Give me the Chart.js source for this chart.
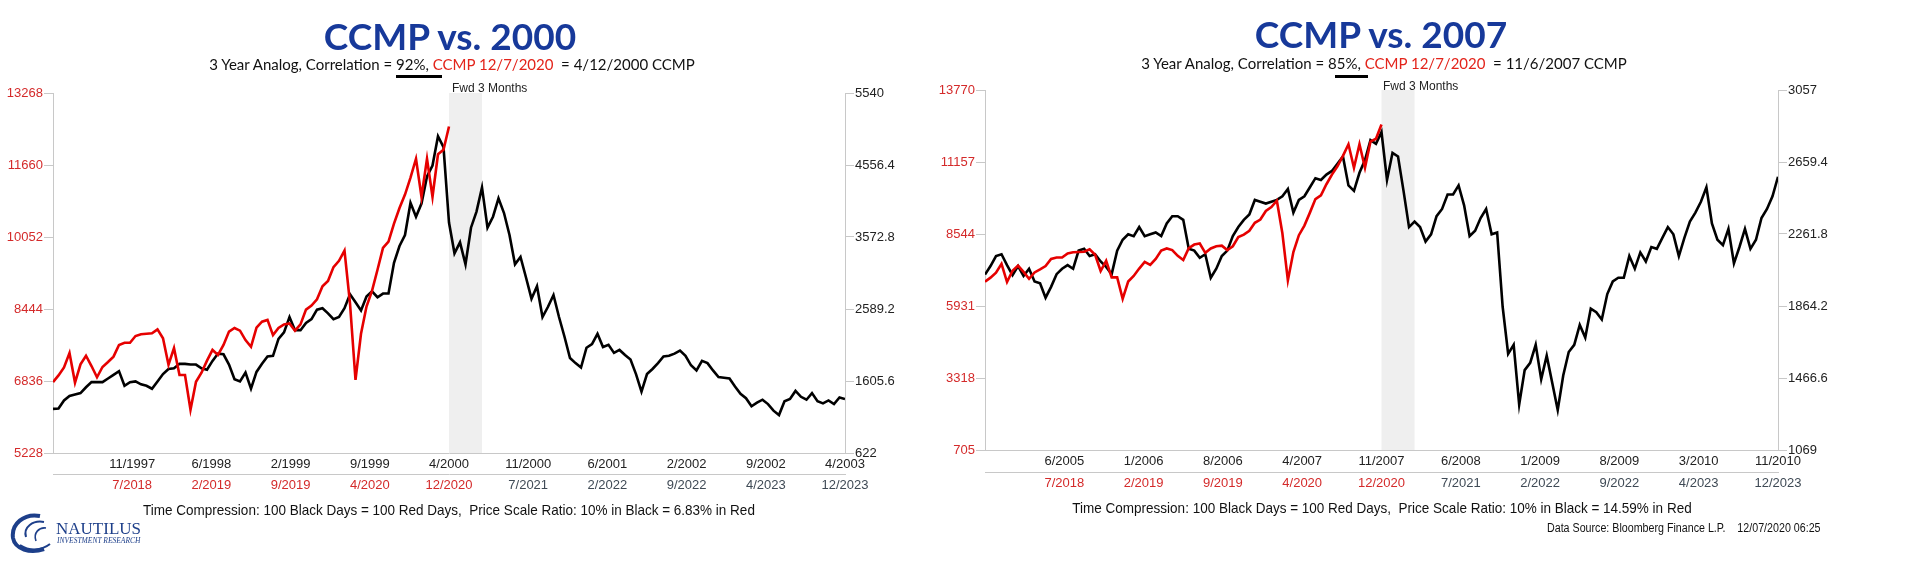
<!DOCTYPE html>
<html>
<head>
<meta charset="utf-8">
<script src="https://cdn.jsdelivr.net/npm/chart.js@4.4.1/dist/chart.umd.min.js"></script>
<style>
  html, body { margin: 0; padding: 0; background: #fff; }
  body { width: 1914px; height: 563px; position: relative; overflow: hidden; }
  canvas { position: absolute; top: 0; }
  .txt { position: absolute; white-space: pre; line-height: 1; }
  .title { font-family: Lato, 'Open Sans', sans-serif; font-weight: 700; font-size: 37px; color: #17399a; transform: translateX(-50%); }
  .sub { font-family: Lato, 'Open Sans', sans-serif; font-size: 15px; color: #111; transform: translateX(-50%); }
  .red { color: #e3241b; }
  .fwd { font-family: 'Liberation Sans', Arial, sans-serif; font-size: 12px; color: #222; }
  .note { font-family: 'Liberation Sans Narrow', 'Arial Narrow', 'Liberation Sans', sans-serif; font-size: 15px; color: #111; transform: translateX(-50%) scaleX(0.9); }
  .src { font-family: 'Liberation Sans Narrow', 'Arial Narrow', 'Liberation Sans', sans-serif; font-size: 12px; color: #111; transform-origin: 0 0; transform: scaleX(0.89); }
  .bar { position: absolute; height: 3px; background: #000; }
  .logo { font-family: 'Liberation Serif', 'DejaVu Serif', serif; color: #1d3f8a; }
</style>
</head>
<body>
<canvas id="c2000" width="930" height="563" style="left:0;width:930px;height:563px"></canvas>
<canvas id="c2007" width="984" height="563" style="left:930px;width:984px;height:563px"></canvas>

<div class="txt title" style="left:450px;top:17px">CCMP vs. 2000</div>
<div class="txt sub" style="left:452px;top:57px">3 Year Analog, Correlation = 92%, <span class="red">CCMP 12/7/2020</span>  = 4/12/2000 CCMP</div>
<div class="bar" style="left:396px;top:75px;width:46px"></div>
<div class="txt fwd" style="left:452px;top:82px">Fwd 3 Months</div>
<div class="txt note" style="left:449px;top:502px">Time Compression: 100 Black Days = 100 Red Days,  Price Scale Ratio: 10% in Black = 6.83% in Red</div>

<div class="txt title" style="left:1381px;top:15px">CCMP vs. 2007</div>
<div class="txt sub" style="left:1384px;top:56px">3 Year Analog, Correlation = 85%, <span class="red">CCMP 12/7/2020</span>  = 11/6/2007 CCMP</div>
<div class="bar" style="left:1335px;top:75px;width:33px"></div>
<div class="txt fwd" style="left:1383px;top:80px">Fwd 3 Months</div>
<div class="txt note" style="left:1382px;top:500px">Time Compression: 100 Black Days = 100 Red Days,  Price Scale Ratio: 10% in Black = 14.59% in Red</div>
<div class="txt src" style="left:1547px;top:522px">Data Source: Bloomberg Finance L.P.    12/07/2020 06:25</div>

<svg style="position:absolute;left:8px;top:512px" width="50" height="42" viewBox="0 0 50 42">
  <path d="M32 4 C16 1, 3 12, 5 26 C7 37, 22 42, 36 37" stroke="#1d3f8a" stroke-width="4" fill="none"/>
  <path d="M36 10 C25 8, 15 15, 18 25" stroke="#1d3f8a" stroke-width="2" fill="none"/>
  <path d="M38 16 C31 15, 25 21, 28 29" stroke="#1d3f8a" stroke-width="1.6" fill="none"/>
  <path d="M12 33 C21 39, 33 39, 42 32" stroke="#1d3f8a" stroke-width="2" fill="none"/>
</svg>
<div class="txt logo" style="left:56px;top:520px;font-size:17px">NAUTILUS</div>
<div class="txt logo" style="left:57px;top:537px;font-size:7.5px;font-style:italic">INVESTMENT RESEARCH</div>

<script>
// x tick labels (ten per axis, evenly spaced, last one at the right edge)
const ticksBlack2000 = ['11/1997', '6/1998', '2/1999', '9/1999', '4/2000', '11/2000', '6/2001', '2/2002', '9/2002', '4/2003'];
const ticksBlack2007 = ['6/2005', '1/2006', '8/2006', '4/2007', '11/2007', '6/2008', '1/2009', '8/2009', '3/2010', '11/2010'];
const ticksRed = ['7/2018', '2/2019', '9/2019', '4/2020', '12/2020', '7/2021', '2/2022', '9/2022', '4/2023', '12/2023'];

// y tick values
const yLeft2000 = [5228, 6836, 8444, 10052, 11660, 13268];
const yRight2000 = [622, 1605.6, 2589.2, 3572.8, 4556.4, 5540];
const yLeft2007 = [705, 3318, 5931, 8544, 11157, 13770];
const yRight2007 = [1069, 1466.6, 1864.2, 2261.8, 2659.4, 3057];

// CCMP 12/7/2017 .. 12/7/2020, twice a month (red)
const ccmp2017_2020 = [
  6812, 6960,
  7140, 7460, 6800, 7210, 7400, 7170, 6920, 7150, 7260, 7380, 7640, 7690,
  7690, 7840, 7880, 7890, 7900, 7990, 7790, 7200, 7570, 6970, 6970, 6193,
  6820, 7020, 7290, 7530, 7420, 7640, 7940, 8020, 7960, 7750, 7600, 8030,
  8160, 8200, 7860, 8020, 8100, 8120, 7960, 8100, 8430, 8520, 8660, 8950,
  9070, 9380, 9520, 9750, 8570, 6860, 7890, 8500, 8850, 9320, 9810, 9950,
  10350, 10700, 11000, 11380, 11800, 10950, 11800, 10950, 11900, 12000, 12519
];

// CCMP 4/12/1997 .. 4/12/2003, twice a month (black, left panel)
const ccmp1997_2003 = [
  1225, 1230, 1340, 1400, 1420, 1440, 1520, 1590, 1590, 1590, 1640, 1690, 1740, 1540, 1590, 1600, 1560, 1540,
  1500, 1600, 1700, 1770, 1780, 1840, 1840, 1830, 1830, 1780, 1760, 1880, 1980, 1970, 1830, 1630, 1600, 1720, 1500, 1730, 1840, 1940, 1950, 2180,
  2270, 2480, 2300, 2300, 2400, 2450, 2580, 2600, 2530, 2450, 2480, 2600, 2790, 2680, 2570, 2760, 2830, 2750, 2800, 2800, 3220, 3450, 3600, 4040,
  3850, 4030, 4400, 4550, 4950, 4800, 3770, 3350, 3500, 3200, 3700, 3920, 4250, 3700, 3850, 4100, 3900, 3600, 3200, 3300, 3020, 2730, 2900, 2480,
  2620, 2780, 2480, 2210, 1920, 1850, 1790, 2060, 2110, 2250, 2070, 2100, 1990, 2030, 1960, 1900, 1700, 1460, 1700, 1770, 1850, 1940, 1950, 1980,
  2020, 1950, 1820, 1750, 1880, 1850, 1750, 1660, 1650, 1640, 1530, 1430, 1370, 1260, 1310, 1350, 1290, 1200, 1140, 1330, 1360, 1470, 1390, 1350,
  1440, 1330, 1300, 1340, 1290, 1380, 1360
];

// CCMP 11/6/2004 .. 11/6/2010, twice a month (black, right panel)
const ccmp2004_2010 = [
  2038, 2085, 2140, 2150,
  2090, 2035, 2085, 2030, 2070, 2000, 1990, 1910, 1970, 2040, 2070, 2090, 2070, 2170, 2180, 2140, 2150, 2110, 2080, 2040, 2170, 2230, 2260, 2250,
  2300, 2250, 2260, 2270, 2250, 2320, 2360, 2360, 2340, 2180, 2170, 2130, 2150, 2020, 2070, 2140, 2170, 2250, 2300, 2340, 2370, 2450, 2440, 2430,
  2440, 2450, 2470, 2510, 2380, 2450, 2470, 2520, 2570, 2560, 2590, 2610, 2650, 2690, 2530, 2500, 2600, 2670, 2780, 2760, 2825, 2560, 2710, 2690,
  2500, 2300, 2330, 2300, 2220, 2260, 2360, 2400, 2480, 2480, 2530, 2420, 2250, 2280, 2350, 2400, 2260, 2270, 1860, 1600, 1650, 1320, 1510, 1550,
  1650, 1460, 1590, 1440, 1290, 1480, 1610, 1650, 1760, 1690, 1850, 1830, 1790, 1930, 2000, 2020, 2020, 2140, 2070, 2160, 2110, 2190, 2180, 2240,
  2300, 2260, 2140, 2240, 2330, 2380, 2440, 2520, 2320, 2230, 2200, 2290, 2100, 2190, 2290, 2180, 2230, 2350, 2400, 2470, 2578
];

const AXIS = '#c8c8c8';
const RED_TXT = '#d42a2a';
const NARROW = "'Liberation Sans Narrow', 'Arial Narrow', 'Liberation Sans', sans-serif";
const SPAN = 36; // months each side of the analog date

// months relative to the analog date, spread evenly over the series
function toPoints(values, from, to) {
  return values.map((v, i) => ({ x: from + i * (to - from) / (values.length - 1), y: v }));
}

// grey "Fwd 3 Months" band, drawn from the x scale
const fwdBand = {
  id: 'fwdBand',
  beforeDatasetsDraw(chart) {
    const { ctx, chartArea, scales } = chart;
    const x0 = scales.x.getPixelForValue(0);
    const x1 = scales.x.getPixelForValue(3);
    ctx.save();
    ctx.fillStyle = '#efefef';
    ctx.fillRect(x0, chartArea.top, x1 - x0, chartArea.bottom - chartArea.top);
    ctx.restore();
  }
};

function makePanel(id, o) {
  const tickFont = { family: NARROW, size: 13 };
  const xTicks = labels => s => {
    s.ticks = labels.map((_, i) => ({ value: -SPAN + (i + 1) * (2 * SPAN / labels.length) }));
  };
  return new Chart(document.getElementById(id), {
    type: 'line',
    data: {
      datasets: [
        {
          label: 'CCMP 2017-2020',
          data: toPoints(ccmp2017_2020, -SPAN, 0),
          xAxisID: 'x2', yAxisID: 'yL',
          borderColor: '#e60000', borderWidth: 2.6,
          pointRadius: 0, tension: 0, order: 0,
        },
        {
          label: o.blackLabel,
          data: toPoints(o.black, -SPAN, SPAN),
          xAxisID: 'x', yAxisID: 'yR',
          borderColor: '#000', borderWidth: 2.6,
          pointRadius: 0, tension: 0, order: 1,
        },
      ],
    },
    options: {
      responsive: false,
      animation: false,
      events: [],
      layout: { padding: { top: o.top, bottom: o.bottom, left: 0, right: 0 } },
      plugins: { legend: { display: false }, tooltip: { enabled: false } },
      scales: {
        x: {
          type: 'linear', position: 'bottom', weight: 0, min: -SPAN, max: SPAN,
          afterBuildTicks: xTicks(o.blackTicks),
          afterFit: s => { s.height = o.xH; },
          grid: { display: false, drawTicks: false },
          border: { display: true, color: AXIS },
          ticks: {
            autoSkip: false, maxRotation: 0, padding: 4, font: tickFont, color: '#222',
            callback: (v, i) => o.blackTicks[i],
          },
        },
        x2: {
          type: 'linear', position: 'bottom', weight: 1, min: -SPAN, max: SPAN,
          afterBuildTicks: xTicks(ticksRed),
          afterFit: s => { s.height = 40; },
          grid: { display: false, drawTicks: false },
          border: { display: true, color: AXIS },
          ticks: {
            autoSkip: false, maxRotation: 0, padding: 4, font: tickFont,
            color: c => (c.index < 5 ? RED_TXT : '#3f4a55'),
            callback: (v, i) => ticksRed[i],
          },
        },
        yL: {
          type: 'linear', position: 'left', min: o.yLeft[0], max: o.yLeft[o.yLeft.length - 1],
          afterBuildTicks: s => { s.ticks = o.yLeft.map(v => ({ value: v })); },
          afterFit: s => { s.width = o.leftW; },
          grid: { display: true, drawOnChartArea: false, drawTicks: true, tickLength: 9, color: AXIS },
          border: { display: true, color: AXIS },
          ticks: { padding: 1, font: tickFont, color: RED_TXT, callback: v => String(v) },
        },
        yR: {
          type: 'linear', position: 'right', min: o.yRight[0], max: o.yRight[o.yRight.length - 1],
          afterBuildTicks: s => { s.ticks = o.yRight.map(v => ({ value: v })); },
          afterFit: s => { s.width = o.rightW; },
          grid: { display: true, drawOnChartArea: false, drawTicks: true, tickLength: 9, color: AXIS },
          border: { display: true, color: AXIS },
          ticks: { padding: 1, font: tickFont, color: '#222', callback: v => String(v) },
        },
      },
    },
    plugins: [fwdBand],
  });
}

makePanel('c2000', {
  blackLabel: 'CCMP 1997-2003', black: ccmp1997_2003, blackTicks: ticksBlack2000,
  yLeft: yLeft2000, yRight: yRight2000,
  top: 93, bottom: 49, xH: 21, leftW: 53, rightW: 85,
});
makePanel('c2007', {
  blackLabel: 'CCMP 2004-2010', black: ccmp2004_2010, blackTicks: ticksBlack2007,
  yLeft: yLeft2007, yRight: yRight2007,
  top: 90, bottom: 51, xH: 22, leftW: 55, rightW: 136,
});
</script>
</body>
</html>
